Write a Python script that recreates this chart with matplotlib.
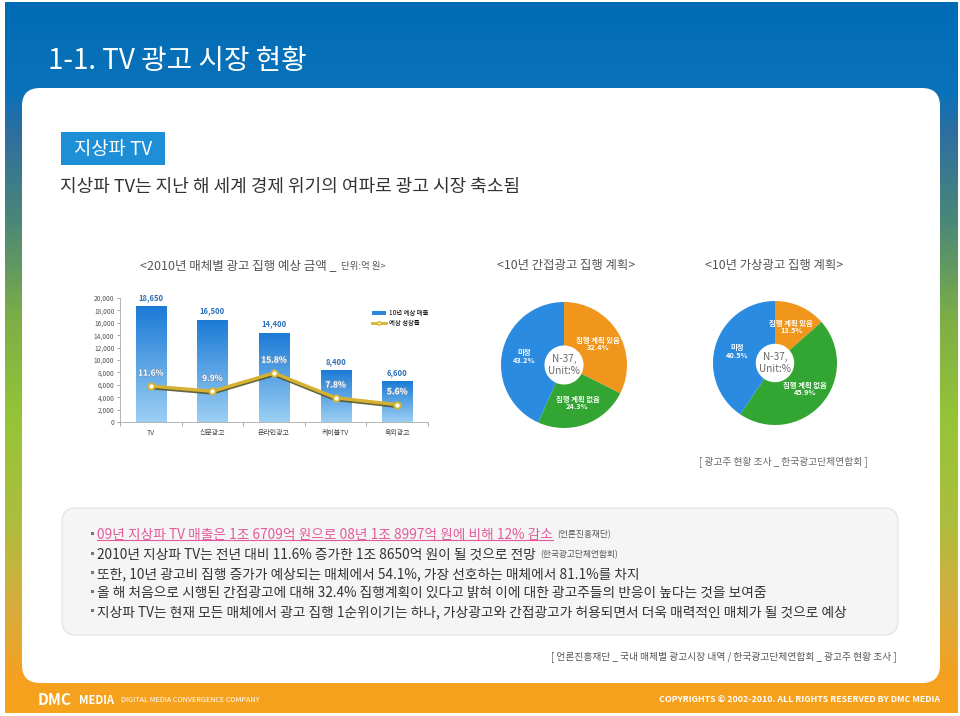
import numpy as np
import matplotlib
matplotlib.use('Agg')
import matplotlib.pyplot as plt
from matplotlib.patches import FancyBboxPatch, Rectangle, Patch
from matplotlib.lines import Line2D
from matplotlib.colors import LinearSegmentedColormap
import matplotlib.patheffects as pe

plt.rcParams['font.family'] = ['Noto Sans CJK KR', 'DejaVu Sans']

# ---------------- data ----------------
media = ['TV', '신문광고', '온라인광고', '케이블TV', '옥외광고']
spend_2010 = [18650, 16500, 14400, 8400, 6600]
growth_pct = [11.6, 9.9, 15.8, 7.8, 5.6]
yticks = list(range(0, 20001, 2000))

ppl_labels = ['집행 계획 있음', '집행 계획 없음', '미정']
ppl_share = [32.4, 24.3, 43.2]
vad_labels = ['집행 계획 있음', '집행 계획 없음', '미정']
vad_share = [13.5, 45.9, 40.5]

bullet_lines = [
    ('09년 지상파 TV 매출은 1조 6709억 원으로 08년 1조 8997억 원에 비해 12% 감소', '(언론진흥재단)'),
    ('2010년 지상파 TV는 전년 대비 11.6% 증가한 1조 8650억 원이 될 것으로 전망', '(한국광고단체연합회)'),
    ('또한, 10년 광고비 집행 증가가 예상되는 매체에서 54.1%, 가장 선호하는 매체에서 81.1%를 차지', ''),
    ('올 해 처음으로 시행된 간접광고에 대해 32.4% 집행계획이 있다고 밝혀 이에 대한 광고주들의 반응이 높다는 것을 보여줌', ''),
    ('지상파 TV는 현재 모든 매체에서 광고 집행 1순위이기는 하나, 가상광고와 간접광고가 허용되면서 더욱 매력적인 매체가 될 것으로 예상', ''),
]

W, H = 960, 716
fig = plt.figure(figsize=(W / 100, H / 100), dpi=100)
fig.patch.set_facecolor('white')

# ---------------- background ----------------
bg = fig.add_axes([0, 0, 1, 1])
bg.set_xlim(0, W)
bg.set_ylim(H, 0)
bg.axis('off')

stops_y = [0, 90, 130, 220, 320, 420, 520, 610, 680, 716]
stops_c = [(0, 108, 182), (10, 114, 186), (45, 110, 160), (75, 135, 120), (125, 175, 70),
           (150, 196, 55), (172, 190, 62), (215, 172, 60), (245, 160, 32), (247, 163, 28)]
ys = np.arange(H)
grad = np.zeros((H, 1, 3))
for k in range(3):
    grad[:, 0, k] = np.interp(ys, stops_y, [c[k] for c in stops_c]) / 255.0
bg.imshow(grad, extent=[5, 958, 713, 2], aspect='auto', zorder=0)

panel = FancyBboxPatch((22, 88), 918, 595, boxstyle='round,pad=0,rounding_size=18',
                       facecolor='white', edgecolor='none', zorder=1)
bg.add_patch(panel)

def T(x, y, s, **kw):
    kw.setdefault('zorder', 5)
    return bg.text(x, y, s, **kw)

T(48, 61, '1-1. TV 광고 시장 현황', color='white', fontsize=20, va='center', ha='left')

bg.add_patch(Rectangle((61, 132), 104, 33, facecolor='#1e8fd6', edgecolor='none', zorder=2))
T(113, 149, '지상파 TV', color='white', fontsize=13.5, ha='center', va='center')
T(60, 187, '지상파 TV는 지난 해 세계 경제 위기의 여파로 광고 시장 축소됨', color='#333333',
  fontsize=13, ha='left', va='center')

tmain = T(140, 266, '<2010년 매체별 광고 집행 예상 금액 _ ', color='#555555', fontsize=9,
          ha='left', va='center')
bg.annotate('단위:억 원>', xy=(1, 0.5), xycoords=tmain, xytext=(1, 0), textcoords='offset points',
            color='#555555', fontsize=6.8, ha='left', va='center', zorder=5)
T(566, 266, '<10년 간접광고 집행 계획>', color='#555555', fontsize=8.9, ha='center', va='center')
T(774, 266, '<10년 가상광고 집행 계획>', color='#555555', fontsize=8.9, ha='center', va='center')

T(868, 462, '[ 광고주 현황 조사 _ 한국광고단체연합회 ]', color='#666666', fontsize=7,
  ha='right', va='center')

# text box
bg.add_patch(FancyBboxPatch((62, 508), 836, 127, boxstyle='round,pad=0,rounding_size=14',
                            facecolor='#f5f5f5', edgecolor='#e2e2e2', lw=0.8, zorder=2))
line_y = [535, 555, 574, 593, 612]
first_text = None
for i, ((main, src), y) in enumerate(zip(bullet_lines, line_y)):
    T(87, y, '▪', color='#777777', fontsize=8, ha='left', va='center')
    col = '#e35a9c' if i == 0 else '#333333'
    t = T(97, y, main, color=col, fontsize=9.85, ha='left', va='center')
    if i == 0:
        first_text = t
    if src:
        bg.annotate(src, xy=(1, 0.5), xycoords=t, xytext=(3, 0), textcoords='offset points',
                    color='#555555', fontsize=6.3, ha='left', va='center', zorder=5)

T(897, 657, '[ 언론진흥재단 _ 국내 매체별 광고시장 내역 / 한국광고단체연합회 _ 광고주 현황 조사 ]',
  color='#555555', fontsize=7, ha='right', va='center')

# footer
T(38, 700, 'DMC', color='white', fontsize=11, weight='bold', ha='left', va='center')
T(79, 700, 'MEDIA', color='white', fontsize=8, weight='bold', ha='left', va='center')
T(121, 700, 'DIGITAL MEDIA CONVERGENCE COMPANY', color='white', fontsize=5.2, ha='left', va='center')
T(940, 700, 'COPYRIGHTS © 2002-2010. ALL RIGHTS RESERVED BY DMC MEDIA', color='white',
  fontsize=6.4, weight='bold', ha='right', va='center')

# ---------------- bar chart ----------------
L, R, TOP, BOT = 120, 428, 298, 422
ax = fig.add_axes([L / W, (H - BOT) / H, (R - L) / W, (BOT - TOP) / H])
ax.set_facecolor('none')
x = np.arange(len(media))
bars = ax.bar(x, spend_2010, width=0.49, color='#3a95e0', edgecolor='none', zorder=2)
bgrad = np.linspace(0, 1, 256).reshape(-1, 1)
bcmap = LinearSegmentedColormap.from_list('b', ['#9ccff3', '#1a7ad6'])
for b in bars:
    x0 = b.get_x()
    im = ax.imshow(bgrad, cmap=bcmap, extent=[x0, x0 + b.get_width(), 0, b.get_height()],
                   origin='lower', aspect='auto', zorder=2.1)
    im.set_clip_path(b)
for xi, v in zip(x, spend_2010):
    ax.annotate(f'{v:,}', (xi, v), xytext=(0, 3), textcoords='offset points', ha='center',
                va='bottom', fontsize=5.5, color='#2a70b8', weight='bold')
ax.set_xlim(-0.5, len(media) - 0.5)
ax.set_ylim(0, 20000)
ax.set_yticks(yticks)
ax.set_yticklabels([f'{v:,}' for v in yticks], fontsize=4.8, color='#555555')
ax.set_xticks(x)
ax.set_xticklabels(media, fontsize=5, color='#444444')
ax.set_xticks(np.arange(-0.5, len(media), 1.0), minor=True)
ax.tick_params(axis='x', which='major', length=0, pad=5)
ax.tick_params(axis='x', which='minor', length=3, color='#999999', width=0.6)
ax.tick_params(axis='y', length=2, color='#999999', width=0.6, pad=2)
for s in ['top', 'right']:
    ax.spines[s].set_visible(False)
for s in ['left', 'bottom']:
    ax.spines[s].set_color('#aaaaaa')
    ax.spines[s].set_linewidth(0.6)

ax2 = ax.twinx()
ax2.set_ylim(0, 40)
ax2.axis('off')
ax2.plot(x, growth_pct, color='#d6b232', lw=2.4, zorder=3,
         path_effects=[pe.SimpleLineShadow(offset=(0, -1.2), shadow_color='#55552a', alpha=0.9),
                       pe.Normal()])
ax2.plot(x, growth_pct, 'o', ms=4.5, mfc='white', mec='#d6b232', mew=1.4, zorder=4)
for xi, g in zip(x, growth_pct):
    ax2.annotate(f'{g}%', (xi, g), xytext=(0, 6), textcoords='offset points', ha='center',
                 va='bottom', fontsize=6, color='white', weight='bold', zorder=5,
                 path_effects=[pe.withStroke(linewidth=1.2, foreground='#6f9cc8')])

handles = [Patch(facecolor='#2a88dc', edgecolor='none'),
           Line2D([0], [0], color='#d6b232', lw=2, marker='o', ms=2.5, mfc='white', mec='#d6b232')]
ax2.legend(handles, ['10년 예상 매출', '예상 성장률'], loc='upper left',
           bbox_to_anchor=(0.81, 0.93), frameon=False, fontsize=4.6,
           handlelength=2.2, handleheight=0.8, labelspacing=0.3, handletextpad=0.5,
           borderaxespad=0)

# ---------------- donuts ----------------
pie_cols = ['#f0961c', '#33a532', '#2b8be0']

def donut(cx, cy, rad, shares, names):
    a = fig.add_axes([(cx - rad) / W, (H - cy - rad) / H, 2 * rad / W, 2 * rad / H])
    labels = [f'{n}\n{v}%' for n, v in zip(names, shares)]
    wedges, texts = a.pie(shares, colors=pie_cols, startangle=90, counterclock=False,
                          radius=1, labels=labels, labeldistance=0.64,
                          wedgeprops=dict(width=0.69, edgecolor='none'))
    for t in texts:
        t.set_ha('center')
        t.set_va('center')
        t.set_color('white')
        t.set_fontsize(5.3)
        t.set_weight('bold')
        t.set_linespacing(1.05)
    a.text(0, 0, 'N-37,\nUnit:%', ha='center', va='center', fontsize=7.2, color='#666666',
           linespacing=1.2)
    a.set_xlim(-1, 1)
    a.set_ylim(-1, 1)
    a.set_aspect('equal')
    a.axis('off')
    return a

donut(564, 365, 63, ppl_share, ppl_labels)
donut(775, 363, 62, vad_share, vad_labels)

# underline for first bullet line
fig.canvas.draw()
r = fig.canvas.get_renderer()
bb = first_text.get_window_extent(r)
inv = bg.transData.inverted()
(ux0, uy0), (ux1, uy1) = inv.transform([[bb.x0, bb.y0], [bb.x1, bb.y1]])
bg.plot([ux0, ux1], [uy0 - 2.5, uy0 - 2.5], color='#e35a9c', lw=0.8, zorder=5)

fig.savefig('out.png', dpi=100)
